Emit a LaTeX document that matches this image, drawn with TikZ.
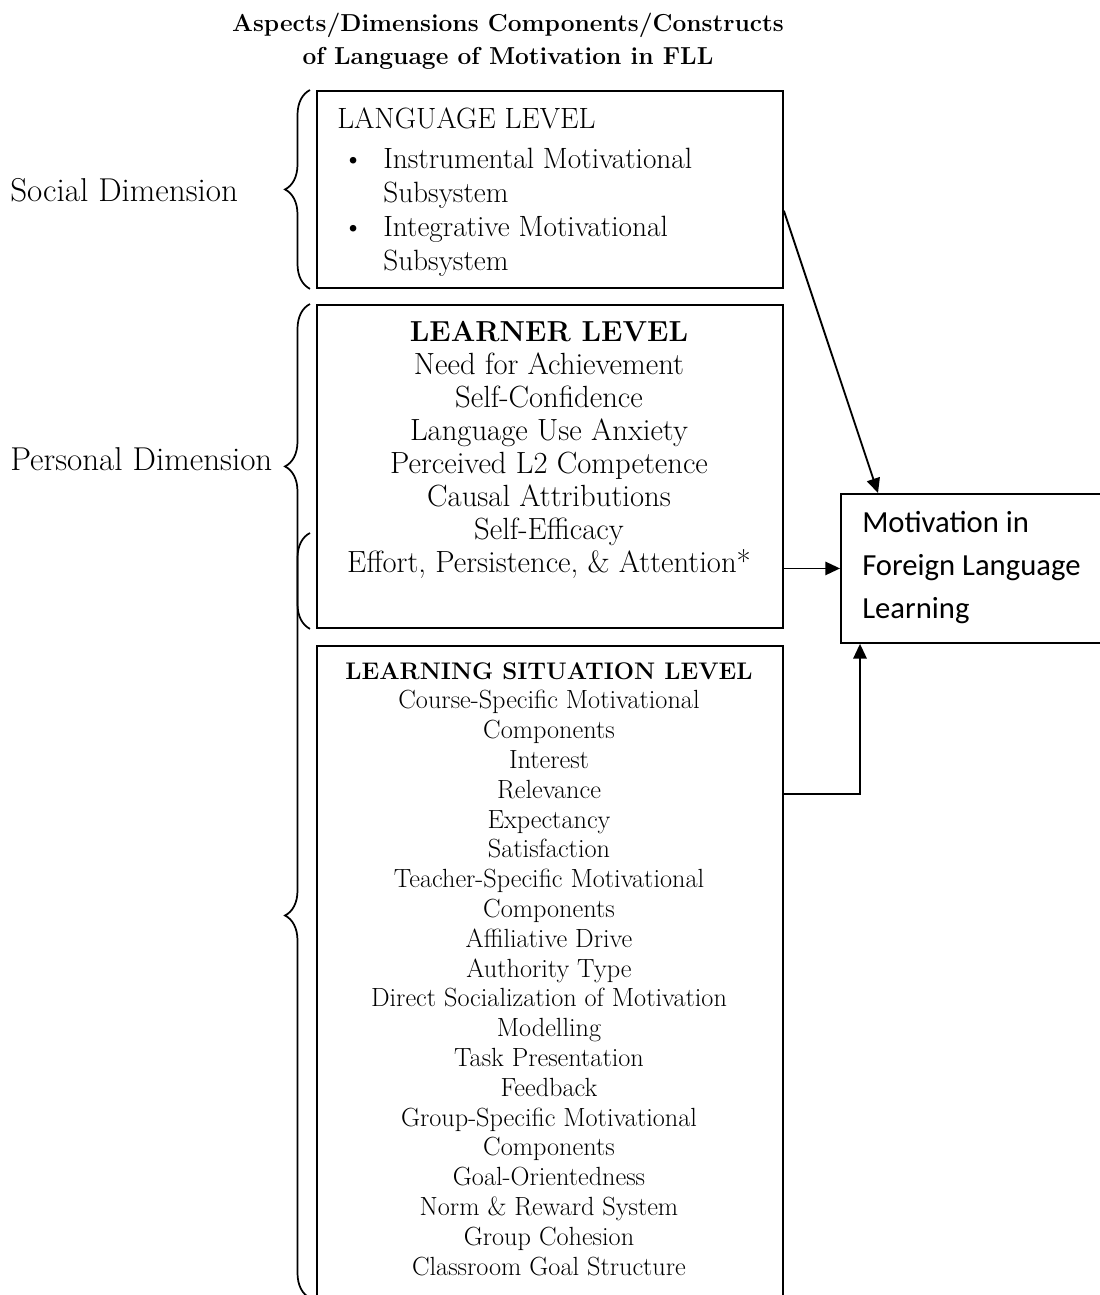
\documentclass[tikz,border=0pt]{standalone}
\usepackage{fontspec}
\newfontfamily\carlitofont{Carlito}
\usetikzlibrary{positioning}
\usetikzlibrary{arrows.meta}
\usetikzlibrary{decorations.pathreplacing}

\begin{document}
\begin{tikzpicture}[x=0.75pt,y=-0.75pt,
    levelbox/.style={draw=black,line width=1.4pt,shape=rectangle,minimum width=349.5pt,anchor=north west,inner sep=0pt},
    leveltext/.style={inner sep=0pt,align=center,font=\fontsize{23}{24.75}\selectfont},
    dimbrace/.style={decorate,decoration={brace,amplitude=18.75pt},line width=1.3pt},
    dimlabel/.style={anchor=west,inner sep=0pt,font=\fontsize{24.8}{27}\selectfont},
    connect/.style={line width=1.4pt,-{Triangle[length=11pt,width=10pt]}}]
    \useasboundingbox (0,0) rectangle (1099,1295);

    \node[font=\fontsize{18.4}{24.75}\selectfont\bfseries,align=center] (title) at (508,41) {Aspects/Dimensions Components/Constructs\\ of Language of Motivation in FLL};

    % the three levels
    \node[levelbox,minimum height=147.75pt] (language) at (316,90) {};
    \node[levelbox,minimum height=242.25pt] (learner) at (316,304) {};
    \node[levelbox,minimum height=495pt] (situation) at (316,645) {};
    \node[draw=black,line width=1.4pt,anchor=north west,minimum width=200pt,minimum height=111.75pt] (motivation) at (840,493) {};

    \node[leveltext,align=left,anchor=north west,font=\fontsize{22}{25.5}\selectfont] (languagetext) at (337,107) {LANGUAGE LEVEL\\[5pt]
        \makebox[34.5pt][l]{\hspace{4pt}\textbullet}Instrumental Motivational\\
        \hspace*{34.5pt}Subsystem\\
        \makebox[34.5pt][l]{\hspace{4pt}\textbullet}Integrative Motivational\\
        \hspace*{34.5pt}Subsystem};
    \node[leveltext,anchor=north] (learnertext) at (549,321) {\textbf{\fontsize{21.7}{24.75}\selectfont LEARNER LEVEL}\\
        Need for Achievement\\ Self-Confidence\\ Language Use Anxiety\\ Perceived L2 Competence\\
        Causal Attributions\\ Self-Efficacy\\ Effort, Persistence, \& Attention*};
    \node[leveltext,anchor=north,font=\fontsize{19.7}{22.35}\selectfont] (situationtext) at (549,662) {\textbf{\fontsize{18}{22.35}\selectfont LEARNING SITUATION LEVEL}\\
        Course-Specific Motivational\\ Components\\ Interest\\ Relevance\\ Expectancy\\ Satisfaction\\
        Teacher-Specific Motivational\\ Components\\ Affiliative Drive\\ Authority Type\\
        Direct Socialization of Motivation\\ Modelling\\ Task Presentation\\ Feedback\\
        Group-Specific Motivational\\ Components\\ Goal-Orientedness\\ Norm \& Reward System\\
        Group Cohesion\\ Classroom Goal Structure};
    \node[anchor=north west,inner sep=0pt,align=left,font=\carlitofont\fontsize{23}{32.25}\selectfont] (motivationtext) at (862,511) {Motivation in\\ Foreign Language\\ Learning};

    % dimensions
    \node[dimlabel] (social) at (10,190) {Social Dimension};
    \node[dimlabel] (personal) at (10,459) {Personal Dimension};
    \draw[dimbrace] ([xshift=-4.5pt]language.south west) -- ([xshift=-4.5pt]language.north west);
    \draw[dimbrace] ([xshift=-4.5pt]learner.south west) -- ([xshift=-4.5pt]learner.north west);
    \draw[dimbrace] (310,1298) -- (310,533);

    \draw[connect] ([yshift=-16pt]language.east) -- ([xshift=28.5pt]motivation.north west);
    \draw[connect] (learner.east |- motivation.west) -- (motivation.west);
    \draw[connect] ([yshift=-111.75pt]situation.north east) -| ([xshift=15pt]motivation.south west);
\end{tikzpicture}
\end{document}
